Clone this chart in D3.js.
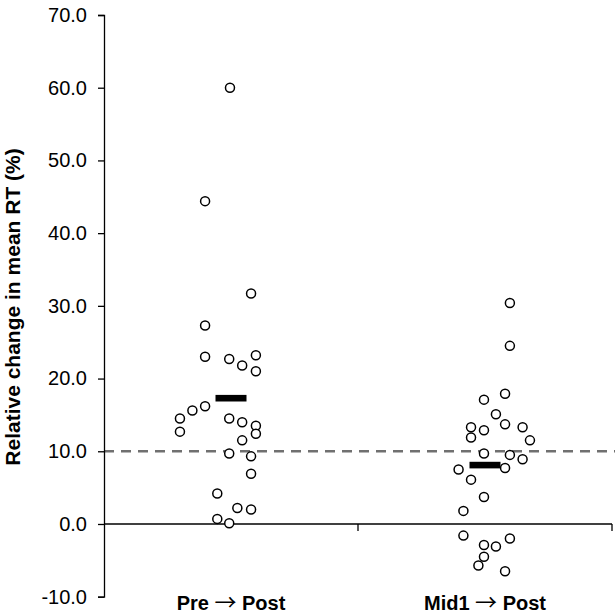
<!DOCTYPE html>
<html>
<head>
<meta charset="utf-8">
<script src="https://cdn.jsdelivr.net/npm/d3@7"></script>
<style>
  html, body { margin: 0; padding: 0; background: #fff; }
  svg { display: block; font-family: "Liberation Sans", Arial, sans-serif; }
</style>
</head>
<body>
<svg id="chart" width="615" height="615"></svg>
<script>
// ---- data ----
const categories = ["Pre \u2192 Post", "Mid1 \u2192 Post"];
const yTicks = [-10, 0, 10, 20, 30, 40, 50, 60, 70];
const yTitle = "Relative change in mean RT (%)";
const referenceLine = 10;

const preValues = [60.0, 44.4, 31.7, 27.3, 23.0, 22.7, 21.8, 23.2, 21.0, 16.2, 15.6, 14.5, 12.7,
                   14.5, 14.0, 13.5, 12.4, 11.5, 9.7, 9.3, 6.9, 4.2, 2.2, 2.0, 0.7, 0.1];
const preJitter = [-0.004, -0.102, 0.079, -0.102, -0.102, -0.007, 0.044, 0.098, 0.098, -0.102, -0.152, -0.201, -0.201,
                   -0.007, 0.044, 0.098, 0.098, 0.044, -0.007, 0.079, 0.079, -0.054, 0.025, 0.079, -0.054, -0.007];

const midValues = [30.4, 24.5, 17.1, 17.9, 15.1, 13.3, 12.9, 13.7, 13.3, 11.9, 11.5, 9.7, 9.5,
                   8.9, 7.7, 7.5, 6.1, 3.7, 1.8, -1.6, -2.9, -3.1, -2.0, -4.5, -5.7, -6.5];
const midJitter = [0.098, 0.098, -0.004, 0.079, 0.043, -0.055, -0.004, 0.079, 0.148, -0.055, 0.177, -0.004, 0.098,
                   0.148, 0.079, -0.104, -0.055, -0.004, -0.085, -0.085, -0.004, 0.043, 0.098, -0.004, -0.026, 0.079];

const means = [17.3, 8.1];

// ---- build ----
const series = [
  {cat: categories[0], values: preValues, jitter: preJitter, mean: means[0]},
  {cat: categories[1], values: midValues, jitter: midJitter, mean: means[1]}
];

const svg = d3.select("#chart");
const mLeft = 104, mRight = 612, mTop = 15, mBottom = 596.7;

const x = d3.scaleBand().domain(categories).range([mLeft, mRight]).padding(0);
const y = d3.scaleLinear().domain([-10, 70]).range([mBottom, mTop]);

// reference dashed line
svg.append("line")
  .attr("x1", mLeft).attr("x2", 615)
  .attr("y1", y(referenceLine)).attr("y2", y(referenceLine))
  .attr("stroke", "#707070").attr("stroke-width", 2.6)
  .attr("stroke-dasharray", "10,7");

// zero line with category dividers
svg.append("line")
  .attr("x1", mLeft).attr("x2", mRight)
  .attr("y1", y(0)).attr("y2", y(0))
  .attr("stroke", "#000").attr("stroke-width", 1.3);
svg.selectAll("line.div").data(categories).enter().append("line")
  .attr("class", "div")
  .attr("x1", d => x(d) + x.bandwidth()).attr("x2", d => x(d) + x.bandwidth())
  .attr("y1", y(0)).attr("y2", y(0) + 7)
  .attr("stroke", "#000").attr("stroke-width", 1.3);

// y axis
const yAxis = d3.axisLeft(y).tickValues(yTicks).tickSize(6).tickSizeOuter(6).tickPadding(11)
  .tickFormat(d => d.toFixed(1));
const gy = svg.append("g").attr("transform", `translate(${mLeft},0)`).call(yAxis);
gy.selectAll("path, line").attr("stroke", "#000").attr("stroke-width", 1.3);
gy.selectAll("text").attr("font-size", 20).attr("fill", "#000")
  .attr("font-family", "'Liberation Sans', Arial, sans-serif");

// category labels
const xAxis = d3.axisBottom(x).tickSize(0).tickPadding(-1);
const gx = svg.append("g").attr("transform", `translate(0,${mBottom})`).call(xAxis);
gx.select(".domain").remove();
gx.selectAll("text").attr("font-size", 20).attr("font-weight", "bold").attr("fill", "#000")
  .attr("font-family", "'Liberation Sans', Arial, sans-serif")
  .each(function(d) {
    const t = d3.select(this);
    const parts = d.split("\u2192");
    t.text(null);
    t.append("tspan").text(parts[0]);
    t.append("tspan").attr("font-family", "'Noto Sans CJK SC', 'DejaVu Sans', sans-serif")
      .attr("font-weight", "normal").attr("font-size", 22).text("\u2192");
    t.append("tspan").text(parts[1]);
  });

// y title
svg.append("text")
  .attr("transform", `translate(20,${307}) rotate(-90)`)
  .attr("text-anchor", "middle")
  .attr("font-size", 21).attr("font-weight", "bold")
  .text(yTitle);

// points
series.forEach(s => {
  const cx = x(s.cat) + x.bandwidth() / 2;
  svg.append("g").selectAll("circle").data(s.values.map((v, i) => ({v, j: s.jitter[i]})))
    .enter().append("circle")
    .attr("cx", d => cx + d.j * x.bandwidth())
    .attr("cy", d => y(d.v))
    .attr("r", 4.5)
    .attr("fill", "#fff").attr("stroke", "#000").attr("stroke-width", 1.5);
  // mean bar
  svg.append("rect")
    .attr("x", cx - 15.5).attr("width", 31)
    .attr("y", y(s.mean) - 3.3).attr("height", 6.6)
    .attr("fill", "#000");
});
</script>
</body>
</html>
